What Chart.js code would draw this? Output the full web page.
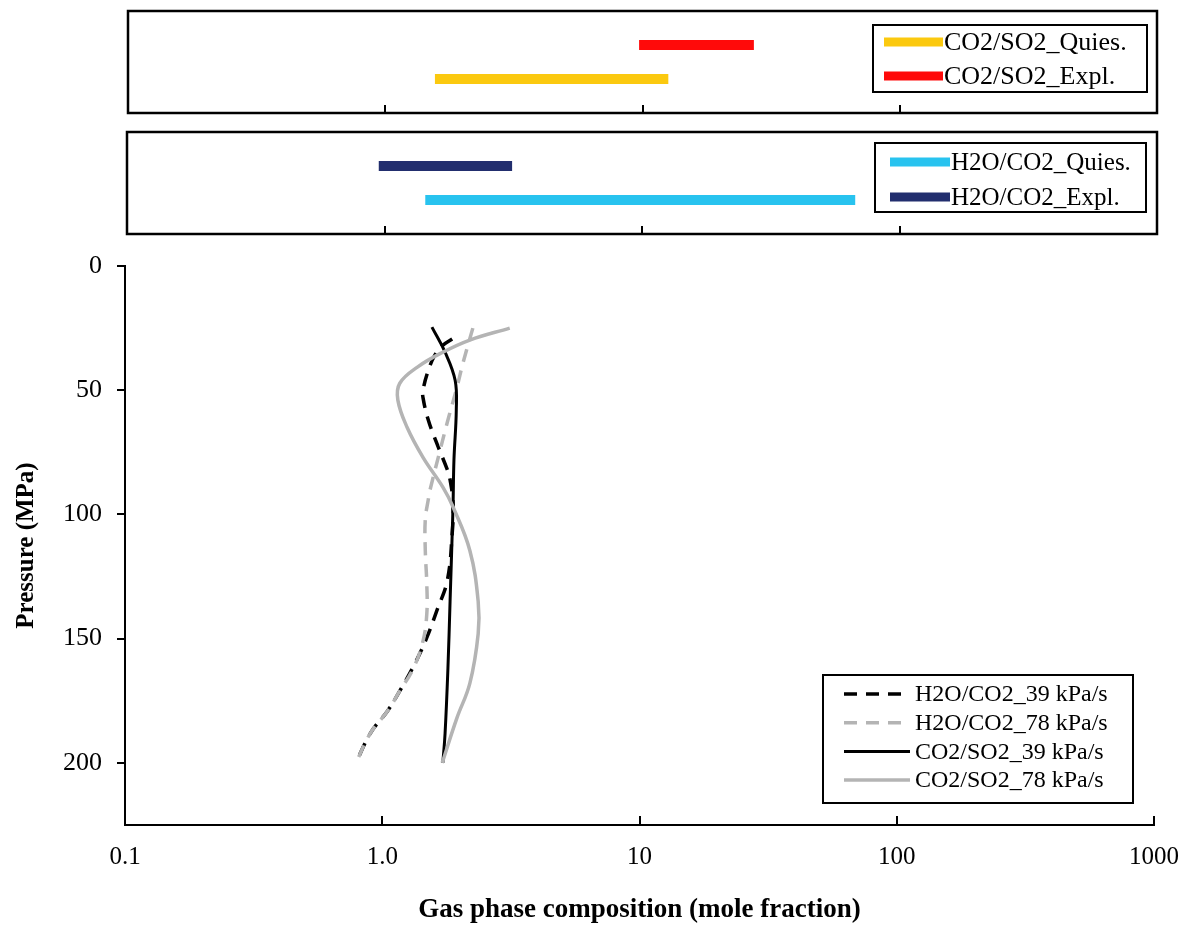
<!DOCTYPE html>
<html>
<head>
<meta charset="utf-8">
<script src="https://cdn.jsdelivr.net/npm/chart.js@4/dist/chart.umd.min.js"></script>
<style>
html, body { margin: 0; padding: 0; background: #fff; }
#wrap { position: relative; width: 1188px; height: 926px; background: #fff; }
canvas { position: absolute; left: 0; top: 0; }
</style>
</head>
<body>
<div id="wrap">
  <canvas id="main" width="1188" height="926"></canvas>
  <canvas id="panelA" width="1188" height="926"></canvas>
  <canvas id="panelB" width="1188" height="926"></canvas>
</div>
<script>
// ---------- data ----------
const xTickValues = [0.1, 1, 10, 100, 1000];
const xTickLabels = ['0.1', '1.0', '10', '100', '1000'];
const yTickValues = [0, 50, 100, 150, 200];

// Top panel: CO2/SO2 ranges (x range, level)
const co2so2QuiesRange = [1.56, 12.6];
const co2so2QuiesLevel = 1;
const co2so2ExplRange = [9.7, 27.1];
const co2so2ExplLevel = 2;

// Middle panel: H2O/CO2 ranges
const h2oco2QuiesRange = [1.44, 67.3];
const h2oco2QuiesLevel = 1;
const h2oco2ExplRange = [0.95, 3.13];
const h2oco2ExplLevel = 2;

// Main panel curves (composition, pressure MPa)
const h2oco2_39_x = [1.87, 1.72, 1.60, 1.51, 1.44, 1.44, 1.51, 1.63, 1.79, 1.835, 1.885, 1.87, 1.79, 1.63, 1.49, 1.34, 1.17, 1.05, 0.90, 0.79];
const h2oco2_39_p = [29.4, 31.9, 36, 42, 50, 53, 62, 71.4, 82, 86, 95.6, 107.7, 126.6, 138.7, 149.6, 160, 171, 179, 188, 200];

const h2oco2_78_x = [2.25, 2.06, 1.95, 1.80, 1.68, 1.535, 1.51, 1.47, 1.47, 1.49, 1.49, 1.44, 1.32, 1.17, 1.05, 0.90, 0.79];
const h2oco2_78_p = [25, 39, 49, 62, 74, 90, 94, 102, 114.5, 128, 140, 151, 162, 171, 179, 188, 200];

const co2so2_39_x = [1.56, 1.755, 1.92, 1.94, 1.90, 1.885, 1.87, 1.835, 1.80, 1.755, 1.72];
const co2so2_39_p = [24.6, 34.7, 46, 58, 78, 95.6, 108, 135, 162, 188, 200];

const co2so2_78_x = [3.13, 2.19, 1.72, 1.37, 1.17, 1.15, 1.25, 1.44, 1.72, 1.885, 2.19, 2.36, 2.36, 2.19, 1.95, 1.71];
const co2so2_78_p = [25, 29.8, 34.7, 40.7, 47.2, 54, 65, 77, 89, 97, 114.5, 135, 148, 168, 182, 200];

// ---------- helpers ----------
const zip = (xs, ys) => xs.map((x, i) => ({ x: x, y: ys[i] }));
const rangePts = (r, lvl) => [{ x: r[0], y: lvl }, { x: r[1], y: lvl }];
const FONT = 'Liberation Serif';

const framePlugin = {
  id: 'frame',
  afterDraw(chart, args, o) {
    if (!o || !o.show) return;
    const { ctx, chartArea: a } = chart;
    ctx.save();
    ctx.strokeStyle = '#000';
    ctx.lineWidth = o.lineWidth;
    ctx.strokeRect(a.left, a.top, a.right - a.left, a.bottom - a.top);
    ctx.restore();
  }
};

const boxLegendPlugin = {
  id: 'boxLegend',
  afterDraw(chart, args, o) {
    if (!o || !o.show) return;
    const { ctx, chartArea: a } = chart;
    const bx = a.left + o.left, by = a.top + o.top;
    ctx.save();
    ctx.fillStyle = '#fff';
    ctx.fillRect(bx, by, o.width, o.height);
    ctx.strokeStyle = '#000';
    ctx.lineWidth = o.borderWidth;
    ctx.strokeRect(bx, by, o.width, o.height);
    ctx.font = o.fontSize + 'px "' + FONT + '"';
    ctx.textBaseline = 'middle';
    ctx.textAlign = 'left';
    chart.data.datasets.forEach((ds, k) => {
      const y = by + o.firstRow + k * o.rowGap;
      ctx.save();
      ctx.strokeStyle = ds.borderColor;
      ctx.lineWidth = o.swatchWidth || ds.borderWidth;
      ctx.setLineDash(ds.borderDash || []);
      ctx.lineCap = 'butt';
      ctx.beginPath();
      ctx.moveTo(bx + o.swatchX1, y);
      ctx.lineTo(bx + o.swatchX2, y);
      ctx.stroke();
      ctx.restore();
      ctx.fillStyle = '#000';
      ctx.fillText(ds.label, bx + o.textX, y + o.textDy);
    });
    ctx.restore();
  }
};

function setXTicks(ax) { ax.ticks = xTickValues.map(v => ({ value: v })); }

// ---------- main chart ----------
new Chart(document.getElementById('main'), {
  type: 'scatter',
  data: {
    datasets: [
      { label: 'H2O/CO2_39 kPa/s', data: zip(h2oco2_39_x, h2oco2_39_p), showLine: true, borderColor: '#000000', borderWidth: 3.5, borderDash: [13, 9], pointRadius: 0, tension: 0.4, order: 3 },
      { label: 'H2O/CO2_78 kPa/s', data: zip(h2oco2_78_x, h2oco2_78_p), showLine: true, borderColor: '#b4b4b4', borderWidth: 3.5, borderDash: [13, 9], pointRadius: 0, tension: 0.4, order: 2 },
      { label: 'CO2/SO2_39 kPa/s', data: zip(co2so2_39_x, co2so2_39_p), showLine: true, borderColor: '#000000', borderWidth: 3, pointRadius: 0, tension: 0.4, order: 1 },
      { label: 'CO2/SO2_78 kPa/s', data: zip(co2so2_78_x, co2so2_78_p), showLine: true, borderColor: '#b4b4b4', borderWidth: 3.5, pointRadius: 0, tension: 0.4, order: 0 }
    ]
  },
  plugins: [boxLegendPlugin],
  options: {
    responsive: false,
    animation: false,
    devicePixelRatio: 1,
    layout: { padding: { left: 0, top: 266, right: 34, bottom: 0 } },
    scales: {
      x: {
        type: 'logarithmic', min: 0.1, max: 1000, position: 'bottom',
        afterBuildTicks: setXTicks,
        ticks: { callback: (v, i) => xTickLabels[i], font: { family: FONT, size: 25 }, color: '#000', padding: 26, maxRotation: 0, autoSkip: false },
        grid: { display: true, drawOnChartArea: false, drawTicks: true, tickLength: -9, color: '#000', lineWidth: 2 },
        border: { display: true, color: '#000', width: 2 },
        title: { display: true, text: 'Gas phase composition (mole fraction)', font: { family: FONT, size: 27, weight: 'bold' }, color: '#000', padding: 0 },
        afterFit: ax => { ax.height = 101; ax.paddingLeft = 0; ax.paddingRight = 0; }
      },
      y: {
        type: 'linear', reverse: true, min: 0, max: 225,
        afterBuildTicks: ax => { ax.ticks = yTickValues.map(v => ({ value: v })); },
        ticks: { font: { family: FONT, size: 26 }, color: '#000', padding: 15 },
        grid: { display: true, drawOnChartArea: false, drawTicks: true, tickLength: 8, color: '#000', lineWidth: 2 },
        border: { display: true, color: '#000', width: 2 },
        title: { display: true, text: 'Pressure (MPa)', font: { family: FONT, size: 25, weight: 'bold' }, color: '#000', padding: { top: 12, bottom: 0 } },
        afterFit: ax => { ax.width = 125; ax.paddingTop = 0; ax.paddingBottom = 0; }
      }
    },
    plugins: {
      legend: { display: false },
      tooltip: { enabled: false },
      boxLegend: { show: true, left: 698, top: 409, width: 310, height: 128, borderWidth: 2,
        firstRow: 19, rowGap: 28.7, swatchX1: 21, swatchX2: 87, textX: 92, textDy: 1, fontSize: 24 }
    }
  }
});

// ---------- panel builder ----------
function panel(id, padding, datasets, legendOpts) {
  return new Chart(document.getElementById(id), {
    type: 'scatter',
    data: { datasets: datasets },
    plugins: [framePlugin, boxLegendPlugin],
    options: {
      responsive: false,
      animation: false,
      devicePixelRatio: 1,
      layout: { padding: padding },
      scales: {
        x: {
          type: 'logarithmic', min: 0.1, max: 1000, position: 'bottom',
          afterBuildTicks: setXTicks,
          ticks: { display: false },
          grid: { display: true, drawOnChartArea: false, drawTicks: true, tickLength: -8, color: '#000', lineWidth: 2 },
          border: { display: false },
          afterFit: ax => { ax.height = 0; ax.paddingLeft = 0; ax.paddingRight = 0; }
        },
        y: { type: 'linear', min: 0, max: 3, display: false }
      },
      plugins: {
        legend: { display: false },
        tooltip: { enabled: false },
        frame: { show: true, lineWidth: 2.5 },
        boxLegend: legendOpts
      }
    }
  });
}

panel('panelA', { left: 128, right: 31, top: 11, bottom: 813 }, [
  { label: 'CO2/SO2_Quies.', data: rangePts(co2so2QuiesRange, co2so2QuiesLevel), showLine: true, borderColor: '#fbc90f', borderWidth: 10, pointRadius: 0 },
  { label: 'CO2/SO2_Expl.', data: rangePts(co2so2ExplRange, co2so2ExplLevel), showLine: true, borderColor: '#ff0a0a', borderWidth: 10, pointRadius: 0 }
], { show: true, left: 745, top: 14, width: 274, height: 67, borderWidth: 2,
     firstRow: 17, rowGap: 34, swatchX1: 11, swatchX2: 70, textX: 71, textDy: 1, fontSize: 26, swatchWidth: 9 });

panel('panelB', { left: 127, right: 31, top: 132, bottom: 692 }, [
  { label: 'H2O/CO2_Quies.', data: rangePts(h2oco2QuiesRange, h2oco2QuiesLevel), showLine: true, borderColor: '#28c3ef', borderWidth: 10, pointRadius: 0 },
  { label: 'H2O/CO2_Expl.', data: rangePts(h2oco2ExplRange, h2oco2ExplLevel), showLine: true, borderColor: '#222e6e', borderWidth: 10, pointRadius: 0 }
], { show: true, left: 748, top: 11, width: 271, height: 69, borderWidth: 2,
     firstRow: 19, rowGap: 35, swatchX1: 15, swatchX2: 75, textX: 76, textDy: 1, fontSize: 25, swatchWidth: 9 });
</script>
</body>
</html>
